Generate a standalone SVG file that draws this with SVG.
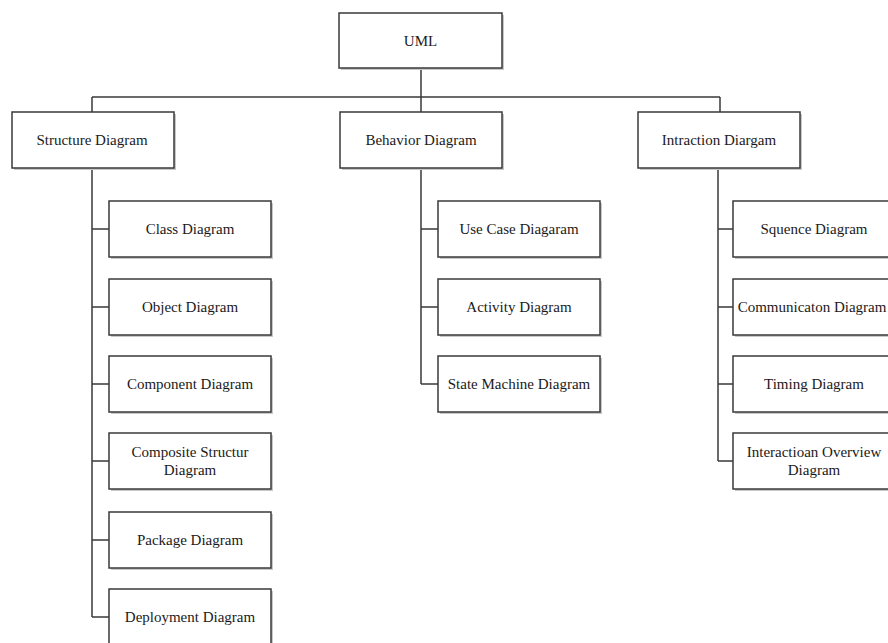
<svg xmlns="http://www.w3.org/2000/svg" width="888" height="643" viewBox="0 0 888 643">
<style>
.box{fill:#ffffff;stroke:#3a3a3a;stroke-width:1.5}
.sh{fill:#c8c8c8}
.lbl{font-family:"Liberation Serif","Times New Roman",serif;font-size:15px;fill:#1a1a1a;text-anchor:middle}
.ln{fill:none;stroke:#3a3a3a;stroke-width:1.5}
</style>
<defs>
<g id="bx"><rect class="sh" x="2" y="2" width="162" height="56"/><rect class="box" x="0" y="0" width="162" height="56"/></g>
</defs>
<g id="connectors">
<path class="ln" d="M421 68V112M92 97H720M92 97V112M720 97V112"/>
<path class="ln" d="M92 168V617M92 229H109M92 307H109M92 384H109M92 461H109M92 540H109M92 617H109"/>
<path class="ln" d="M421 168V384M421 229H438M421 307H438M421 384H438"/>
<path class="ln" d="M718 168V461M718 229H733M718 307H733M718 384H733M718 461H733"/>
</g>
<g id="uml"><rect class="sh" x="341" y="15" width="163" height="55"/><rect class="box" x="339" y="13" width="163" height="55"/><text class="lbl" x="420.5" y="45.5">UML</text></g>
<g id="structure"><use href="#bx" x="12" y="112"/><text class="lbl" x="92" y="145">Structure Diagram</text></g>
<g id="behavior"><use href="#bx" x="340" y="112"/><text class="lbl" x="421" y="145">Behavior Diagram</text></g>
<g id="interaction"><use href="#bx" x="638" y="112"/><text class="lbl" x="719" y="145">Intraction Diargam</text></g>
<g id="class"><use href="#bx" x="109" y="201"/><text class="lbl" x="190" y="234">Class Diagram</text></g>
<g id="object"><use href="#bx" x="109" y="279"/><text class="lbl" x="190" y="312">Object Diagram</text></g>
<g id="component"><use href="#bx" x="109" y="356"/><text class="lbl" x="190" y="389">Component Diagram</text></g>
<g id="composite"><use href="#bx" x="109" y="433"/><text class="lbl" x="190" y="457">Composite Structur</text><text class="lbl" x="190" y="475">Diagram</text></g>
<g id="package"><use href="#bx" x="109" y="512"/><text class="lbl" x="190" y="545">Package Diagram</text></g>
<g id="deployment"><use href="#bx" x="109" y="589"/><text class="lbl" x="190" y="622">Deployment Diagram</text></g>
<g id="usecase"><use href="#bx" x="438" y="201"/><text class="lbl" x="519" y="234">Use Case Diagaram</text></g>
<g id="activity"><use href="#bx" x="438" y="279"/><text class="lbl" x="519" y="312">Activity Diagram</text></g>
<g id="statemachine"><use href="#bx" x="438" y="356"/><text class="lbl" x="519" y="389">State Machine Diagram</text></g>
<g id="sequence"><use href="#bx" x="733" y="201"/><text class="lbl" x="814" y="234">Squence Diagram</text></g>
<g id="communication"><use href="#bx" x="733" y="279"/><text class="lbl" x="812" y="312">Communicaton Diagram</text></g>
<g id="timing"><use href="#bx" x="733" y="356"/><text class="lbl" x="814" y="389">Timing Diagram</text></g>
<g id="overview"><use href="#bx" x="733" y="433"/><text class="lbl" x="814" y="457">Interactioan Overview</text><text class="lbl" x="814" y="475">Diagram</text></g>
</svg>
